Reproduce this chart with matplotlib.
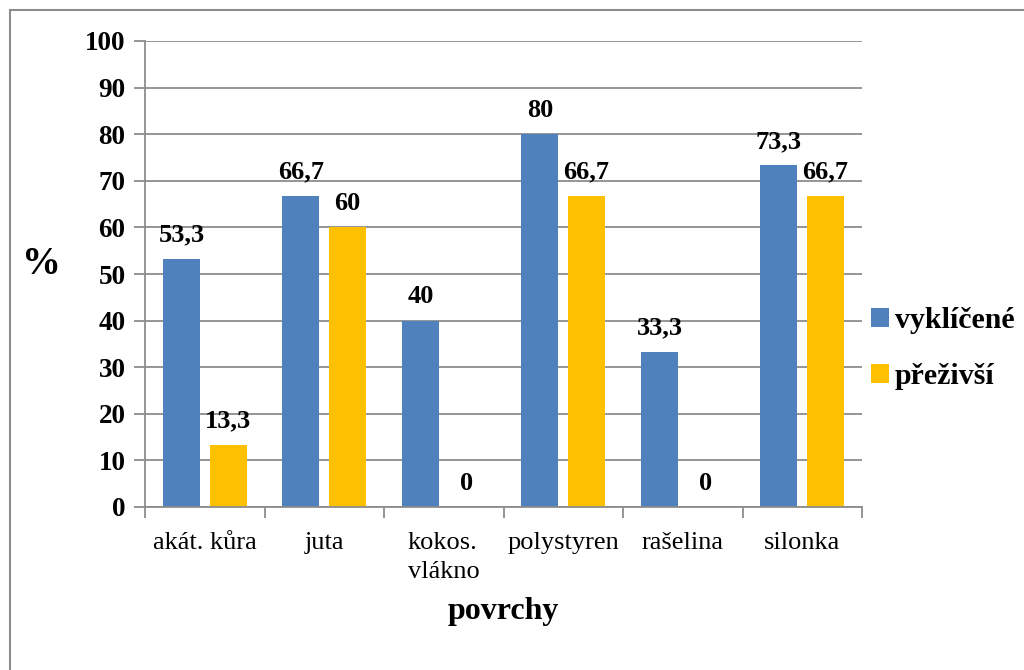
import matplotlib
matplotlib.use("Agg")
import matplotlib.pyplot as plt
from matplotlib.patches import Rectangle
import numpy as np

categories = ["akát. kůra", "juta", "kokos.\nvlákno", "polystyren", "rašelina", "silonka"]
vyklicene = [53.3, 66.7, 40, 80, 33.3, 73.3]
prezivsi = [13.3, 60, 0, 66.7, 0, 66.7]
series_names = ["vyklíčené", "přeživší"]
colors = ["#4F81BD", "#FFC000"]

plt.rcParams["font.family"] = ["Liberation Serif", "DejaVu Serif"]

W, H = 1024, 670
fig = plt.figure(figsize=(W / 100, H / 100), dpi=100)

# outer chart frame
fig.patches.append(Rectangle((10 / W, -0.1), 1.2, (H - 10) / H + 0.1,
                             transform=fig.transFigure, fill=False,
                             edgecolor="#8c8c8c", linewidth=1.5))

ax = fig.add_axes([145 / W, 1 - 507 / H, (862 - 145) / W, (507 - 41) / H])

x = np.arange(len(categories))
bw = 0.31
off = 0.195
b1 = ax.bar(x - off, vyklicene, bw, color=colors[0], label=series_names[0])
b2 = ax.bar(x + off, prezivsi, bw, color=colors[1], label=series_names[1])

for bars, vals in ((b1, vyklicene), (b2, prezivsi)):
    for rect, v in zip(bars, vals):
        txt = f"{v:g}".replace(".", ",")
        ax.annotate(txt, (rect.get_x() + rect.get_width() / 2, v),
                    xytext=(0, 9), textcoords="offset points",
                    ha="center", va="bottom", fontsize=19, fontweight="bold")

ax.set_xlim(-0.5, len(categories) - 0.5)
ax.set_ylim(0, 100)
ax.set_yticks(np.arange(0, 101, 10))
ax.yaxis.grid(True, color="#8c8c8c", linewidth=1.3)
ax.set_axisbelow(True)
for lab in ax.get_yticklabels():
    lab.set_fontweight("bold")
ax.tick_params(axis="y", labelsize=19.5, length=8, width=1.3, color="#8c8c8c", pad=6)

ax.set_xticks(x)
ax.set_xticklabels(categories, fontsize=19, va="top", linespacing=1.4)
ax.set_xticks(np.arange(-0.5, len(categories), 1), minor=True)
ax.tick_params(axis="x", which="major", length=0, pad=18)
ax.tick_params(axis="x", which="minor", length=8, width=1.3, color="#8c8c8c")
for lab in ax.get_xticklabels():
    lab.set_multialignment("left")

for s in ("top", "right"):
    ax.spines[s].set_visible(False)
for s in ("left", "bottom"):
    ax.spines[s].set_color("#8c8c8c")
    ax.spines[s].set_linewidth(1.3)

fig.text(41 / W, 1 - 265 / H, "%", fontsize=28, fontweight="bold", ha="center", va="center")
fig.text(503 / W, 1 - 612 / H, "povrchy", fontsize=23, fontweight="bold", ha="center", va="center")

leg = ax.legend(loc="center left", bbox_to_anchor=(1.0, 0.34), frameon=False,
                prop={"size": 21.5, "weight": "bold"}, handlelength=0.6,
                handleheight=0.6, handletextpad=0.2, labelspacing=0.95,
                borderaxespad=0.3, borderpad=0.0)

fig.savefig("out.png", dpi=100, facecolor="white")
